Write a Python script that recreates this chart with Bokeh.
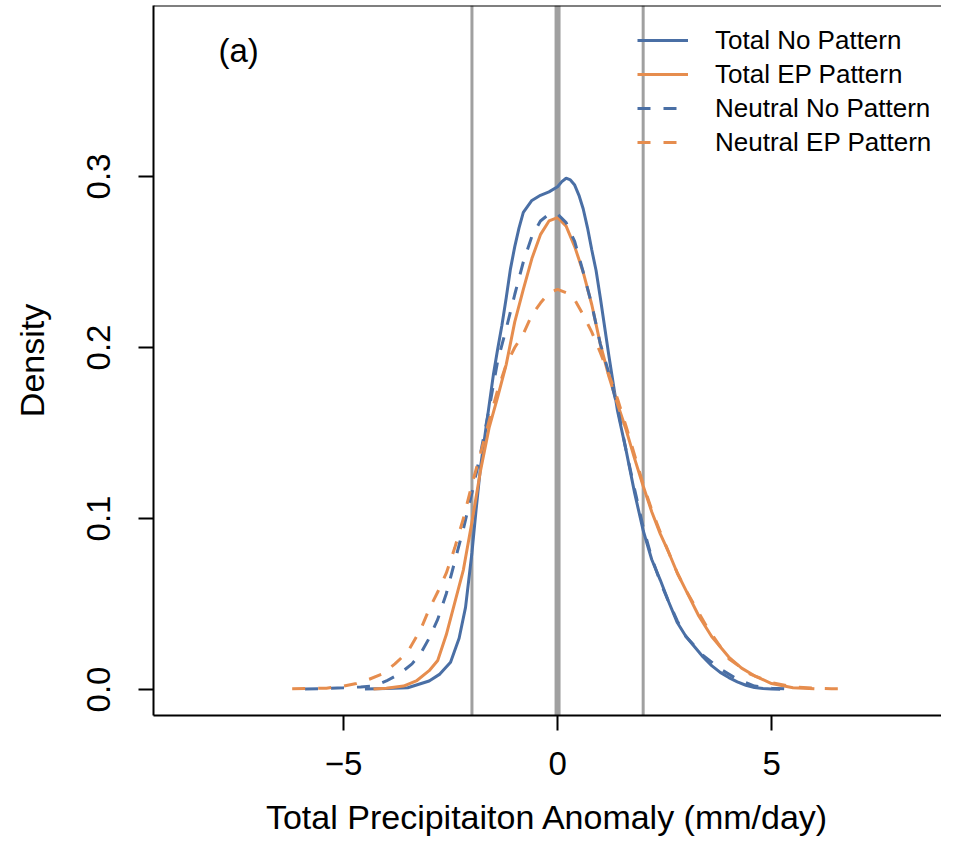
from bokeh.plotting import figure
from bokeh.models import FixedTicker, Span, Legend, LegendItem, Label, Range1d
from bokeh.embed import file_html
from bokeh.resources import INLINE

# ---- data ----
series_names = ["Total No Pattern", "Total EP Pattern", "Neutral No Pattern", "Neutral EP Pattern"]

total_no_x = [-4.5, -4.0, -3.5, -3.0, -2.75, -2.5, -2.3, -2.15, -2.0, -1.9, -1.8, -1.7, -1.6, -1.5,
              -1.4, -1.3, -1.2, -1.1, -1.0, -0.9, -0.8, -0.6, -0.4, -0.2, 0.0, 0.1, 0.2, 0.3, 0.4,
              0.5, 0.6, 0.7, 0.8, 0.9, 1.0, 1.2, 1.4, 1.6, 1.8, 2.0, 2.2, 2.4, 2.6, 2.8, 3.0, 3.2,
              3.4, 3.6, 3.8, 4.0, 4.2, 4.4, 4.6, 4.8, 5.0, 5.2]
total_no_y = [0.0003, 0.0006, 0.001, 0.005, 0.009, 0.016, 0.030, 0.048, 0.080, 0.106, 0.130, 0.148,
              0.166, 0.184, 0.199, 0.213, 0.229, 0.246, 0.259, 0.270, 0.279, 0.286, 0.289, 0.291,
              0.294, 0.297, 0.299, 0.298, 0.295, 0.289, 0.281, 0.270, 0.257, 0.245, 0.229, 0.195,
              0.163, 0.140, 0.115, 0.093, 0.076, 0.064, 0.051, 0.039, 0.031, 0.025, 0.019, 0.014,
              0.010, 0.007, 0.0045, 0.0025, 0.0012, 0.0006, 0.0003, 0.0002]

total_ep_x = [-4.3, -4.0, -3.6, -3.3, -3.0, -2.8, -2.6, -2.4, -2.2, -2.0, -1.8, -1.6, -1.4, -1.2,
              -1.0, -0.8, -0.6, -0.4, -0.2, 0.0, 0.2, 0.4, 0.6, 0.8, 1.0, 1.2, 1.4, 1.6, 1.8, 2.0,
              2.2, 2.4, 2.6, 2.8, 3.0, 3.3, 3.6, 4.0, 4.3, 4.6, 5.0, 5.5, 6.0]
total_ep_y = [0.0003, 0.0008, 0.002, 0.005, 0.011, 0.017, 0.032, 0.051, 0.070, 0.098, 0.128, 0.153,
              0.171, 0.190, 0.215, 0.234, 0.252, 0.266, 0.274, 0.276, 0.271, 0.259, 0.244, 0.225,
              0.202, 0.183, 0.167, 0.152, 0.135, 0.119, 0.104, 0.091, 0.080, 0.068, 0.058, 0.043,
              0.031, 0.019, 0.0125, 0.008, 0.0035, 0.001, 0.0004]

neutral_no_x = [-5.9, -5.4, -5.0, -4.6, -4.3, -4.0, -3.7, -3.4, -3.2, -3.0, -2.8, -2.6, -2.4, -2.2,
                -2.0, -1.8, -1.6, -1.4, -1.2, -1.0, -0.8, -0.6, -0.4, -0.2, 0.0, 0.2, 0.4, 0.6,
                0.8, 1.0, 1.2, 1.4, 1.6, 1.8, 2.0, 2.2, 2.4, 2.6, 2.8, 3.0, 3.4, 3.8, 4.2, 4.6,
                5.0, 5.4]
neutral_no_y = [0.0003, 0.0006, 0.001, 0.0015, 0.002, 0.005, 0.009, 0.015, 0.021, 0.030, 0.041,
                0.056, 0.075, 0.094, 0.115, 0.138, 0.164, 0.192, 0.211, 0.231, 0.250, 0.265,
                0.274, 0.278, 0.278, 0.273, 0.262, 0.244, 0.225, 0.202, 0.185, 0.165, 0.140,
                0.117, 0.095, 0.077, 0.063, 0.051, 0.040, 0.031, 0.020, 0.012, 0.006, 0.002,
                0.0008, 0.0003]

neutral_ep_x = [-6.2, -5.8, -5.4, -5.0, -4.7, -4.4, -4.1, -3.8, -3.5, -3.2, -3.0, -2.8, -2.6, -2.4,
                -2.2, -2.0, -1.8, -1.6, -1.4, -1.2, -1.0, -0.8, -0.6, -0.4, -0.2, 0.0, 0.2, 0.4,
                0.6, 0.8, 1.0, 1.2, 1.4, 1.6, 1.8, 2.0, 2.2, 2.4, 2.6, 2.8, 3.0, 3.5, 4.0, 4.5,
                5.0, 5.5, 6.0, 6.4, 6.8]
neutral_ep_y = [0.0005, 0.0006, 0.0008, 0.002, 0.0035, 0.006, 0.009, 0.015, 0.022, 0.035, 0.047,
                0.057, 0.068, 0.083, 0.100, 0.120, 0.138, 0.157, 0.175, 0.190, 0.200, 0.208,
                0.219, 0.226, 0.232, 0.234, 0.232, 0.228, 0.219, 0.209, 0.197, 0.184, 0.170,
                0.154, 0.137, 0.120, 0.105, 0.092, 0.080, 0.068, 0.058, 0.036, 0.018, 0.009,
                0.004, 0.0015, 0.0008, 0.0005, 0.0004]

ref_lines = [-2, 0, 2]
ref_widths = [3, 6, 3]

x_ticks = [-5, 0, 5]
x_tick_labels = ["\u22125", "0", "5"]
y_ticks = [0.0, 0.1, 0.2, 0.3]
y_tick_labels = ["0.0", "0.1", "0.2", "0.3"]

x_label = "Total Precipitaiton Anomaly (mm/day)"
y_label = "Density"
panel_label = "(a)"

# ---- styling ----
BLUE = "#4a6fa5"
ORANGE = "#e68d4e"
GRAY = "#a0a0a0"
FONT = "Liberation Sans"
DASH = "13 13"

# frame: left 153, top 5, bottom 715 (px)
p = figure(width=941, height=839, output_backend="svg", toolbar_location=None,
           x_range=Range1d(-9.44, 8.97), y_range=Range1d(-0.0152, 0.4000),
           min_border_left=153, min_border_right=0, min_border_top=5, min_border_bottom=124)
p.outline_line_color = None
p.xgrid.visible = False
p.ygrid.visible = False
p.background_fill_color = "white"
p.border_fill_color = "white"

for loc, w in zip(ref_lines, ref_widths):
    p.add_layout(Span(location=loc, dimension="height", line_color=GRAY, line_width=w, level="underlay"))

# top border of the box
p.add_layout(Span(location=p.y_range.end, dimension="width", line_color="black", line_width=2))

r1 = p.line(total_no_x, total_no_y, line_color=BLUE, line_width=3)
r2 = p.line(total_ep_x, total_ep_y, line_color=ORANGE, line_width=3)
r3 = p.line(neutral_no_x, neutral_no_y, line_color=BLUE, line_width=3, line_dash=DASH)
r4 = p.line(neutral_ep_x, neutral_ep_y, line_color=ORANGE, line_width=3, line_dash=DASH)

for ax in (p.xaxis[0], p.yaxis[0]):
    ax.axis_line_width = 2
    ax.axis_line_color = "black"
    ax.major_tick_line_width = 2
    ax.major_tick_out = 15
    ax.major_tick_in = 0
    ax.minor_tick_out = 0
    ax.minor_tick_in = 0
    ax.major_label_text_font = FONT
    ax.major_label_text_font_size = "33px"
    ax.major_label_text_color = "black"
    ax.axis_label_text_font = FONT
    ax.axis_label_text_font_size = "34px"
    ax.axis_label_text_font_style = "normal"
    ax.axis_label_text_color = "black"

p.xaxis.ticker = FixedTicker(ticks=x_ticks)
p.xaxis.major_label_overrides = dict(zip(x_ticks, x_tick_labels))
p.xaxis.axis_label = x_label
p.xaxis.major_label_standoff = 21
p.xaxis.axis_label_standoff = 20

p.yaxis.ticker = FixedTicker(ticks=y_ticks)
p.yaxis.major_label_overrides = dict(zip(y_ticks, y_tick_labels))
p.yaxis.axis_label = y_label
p.yaxis.major_label_orientation = "vertical"
p.yaxis.major_label_standoff = 28
p.yaxis.axis_label_standoff = 34

p.add_layout(Label(x=-7.45, y=0.3737, text=panel_label, text_align="center", text_baseline="middle",
                   text_font=FONT, text_font_size="33px", text_color="black"))

legend = Legend(items=[LegendItem(label=n, renderers=[r]) for n, r in zip(series_names, [r1, r2, r3, r4])],
                location=(484, 556), orientation="vertical",
                background_fill_alpha=0, border_line_alpha=0,
                glyph_width=51, glyph_height=34, label_height=34, label_standoff=27,
                spacing=0, padding=0, margin=0,
                label_text_font=FONT, label_text_font_size="26px", label_text_color="black",
                label_text_baseline="middle")
p.add_layout(legend)

open("out.html", "w").write(file_html(p, INLINE))
